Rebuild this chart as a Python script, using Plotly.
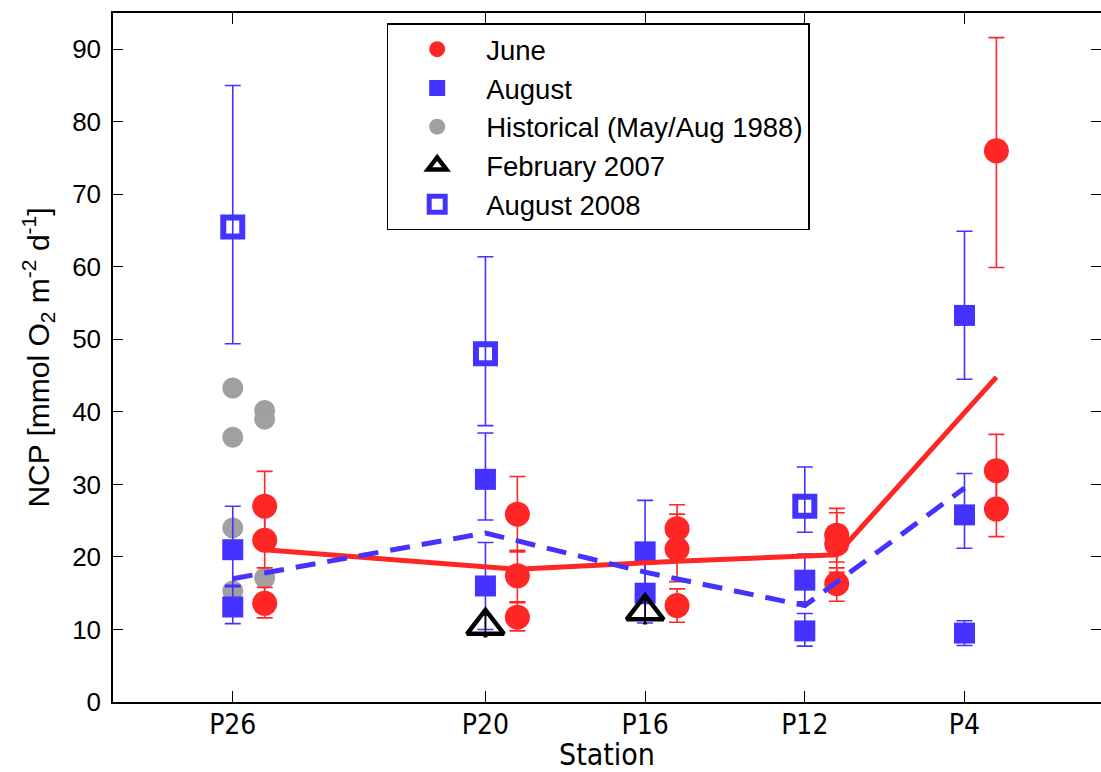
import plotly.graph_objects as go

# ---- data ----
stations = ["P26", "P20", "P16", "P12", "P4"]
station_lon = [-145.0, -138.67, -134.67, -130.67, -126.67]
june_offset = 0.8

june_station = ["P26", "P26", "P26", "P20", "P20", "P20", "P16", "P16", "P16",
                "P12", "P12", "P12", "P4", "P4", "P4"]
june_ncp = [27.0, 22.3, 13.6, 25.9, 17.4, 11.7, 23.9, 21.1, 13.3,
            23.0, 21.8, 16.3, 76.0, 31.9, 26.6]
june_err_up = [4.8, 3.8, 2.2, 5.2, 3.5, 2.0, 3.3, 4.8, 2.3,
               3.7, 4.3, 2.2, 15.6, 5.0, 4.3]
june_err_dn = [4.8, 3.8, 2.0, 5.2, 3.6, 1.9, 3.3, 4.5, 2.3,
               3.7, 3.9, 2.4, 16.1, 5.0, 3.8]

aug_station = ["P26", "P26", "P20", "P20", "P16", "P16", "P12", "P12", "P4", "P4", "P4"]
aug_ncp = [21.0, 13.1, 30.7, 16.0, 20.7, 15.0, 16.8, 9.8, 53.3, 25.8, 9.5]
aug_err_up = [6.0, 3.0, 6.4, 6.0, 7.1, 4.1, 3.6, 2.4, 11.6, 5.7, 1.7]
aug_err_dn = [5.1, 2.3, 5.6, 6.0, 7.1, 4.1, 3.0, 2.1, 8.8, 4.6, 1.7]

hist_may_station = ["P26", "P26", "P26"]
hist_may_ncp = [40.2, 39.0, 17.1]
hist_aug_station = ["P26", "P26", "P26", "P26"]
hist_aug_ncp = [43.3, 36.5, 24.0, 15.3]

feb07_station = ["P20", "P16"]
feb07_ncp = [10.5, 12.5]
feb07_err = [1.5, 1.7]

aug08_station = ["P26", "P20", "P12"]
aug08_ncp = [65.5, 48.0, 27.0]
aug08_err_up = [19.5, 13.4, 5.4]
aug08_err_dn = [16.1, 9.9, 3.6]

june_mean = [21.0, 18.3, 19.4, 20.3, 44.8]
aug_mean = [17.0, 23.3, 17.9, 13.3, 29.5]

# ---- styles ----
RED = "#FF2626"
BLUE = "#4433FF"
GRAY = "#A0A0A0"
NARROW = "Liberation Sans Narrow, DejaVu Sans Condensed, sans-serif"
lon = dict(zip(stations, station_lon))

fig = go.Figure()

fig.add_trace(go.Scatter(
    x=[lon[s] + june_offset for s in hist_may_station] + [lon[s] for s in hist_aug_station],
    y=hist_may_ncp + hist_aug_ncp, mode="markers", name="Historical (May/Aug 1988)",
    marker=dict(symbol="circle", size=21, color=GRAY), legendrank=3))

fig.add_trace(go.Scatter(
    x=[lon[s] + june_offset for s in june_station], y=june_ncp, mode="markers", name="June",
    marker=dict(symbol="circle", size=25, color=RED),
    error_y=dict(type="data", symmetric=False, array=june_err_up, arrayminus=june_err_dn,
                 color=RED, thickness=1.6, width=8), legendrank=1))

fig.add_trace(go.Scatter(
    x=[lon[s] for s in aug_station], y=aug_ncp, mode="markers", name="August",
    marker=dict(symbol="square", size=21, color=BLUE),
    error_y=dict(type="data", symmetric=False, array=aug_err_up, arrayminus=aug_err_dn,
                 color=BLUE, thickness=1.6, width=8), legendrank=2))

fig.add_trace(go.Scatter(
    x=[lon[s] for s in feb07_station], y=feb07_ncp, mode="markers", name="February 2007",
    marker=dict(symbol="triangle-up-open", size=32, color="black", line=dict(width=4.5, color="black")),
    error_y=dict(type="data", array=feb07_err, color="black", thickness=1.6, width=2), legendrank=4))

fig.add_trace(go.Scatter(
    x=[lon[s] for s in aug08_station], y=aug08_ncp, mode="markers", name="August 2008",
    marker=dict(symbol="square-open", size=19, color=BLUE, line=dict(width=6, color=BLUE)),
    error_y=dict(type="data", symmetric=False, array=aug08_err_up, arrayminus=aug08_err_dn,
                 color=BLUE, thickness=1.6, width=8), legendrank=5))

fig.add_trace(go.Scatter(
    x=[v + june_offset for v in station_lon], y=june_mean, mode="lines", showlegend=False,
    line=dict(color=RED, width=5)))
fig.add_trace(go.Scatter(
    x=station_lon, y=aug_mean, mode="lines", showlegend=False,
    line=dict(color=BLUE, width=5, dash="20px,12px")))

fig.update_layout(
    width=1101, height=772,
    margin=dict(l=113, r=0, t=13, b=70),
    plot_bgcolor="white", paper_bgcolor="white",
    font=dict(family="Liberation Sans, Arial, sans-serif", color="black"),
    legend=dict(x=0.277, y=0.985, xanchor="left", yanchor="top",
                bgcolor="white", bordercolor="black", borderwidth=1.5,
                font=dict(size=27.5, family="Liberation Sans, Arial, sans-serif"),
                itemwidth=88, tracegroupgap=0),
    xaxis=dict(range=[-148.0, -123.25], tickvals=station_lon, ticktext=stations,
               ticks="inside", ticklen=11, tickwidth=1.3, tickcolor="black",
               showline=True, linecolor="black", linewidth=1.5, mirror="ticks",
               showgrid=False, zeroline=False, automargin=False, ticklabelstandoff=-3,
               tickfont=dict(size=28, family=NARROW),
               title=dict(text="Station", standoff=8, font=dict(size=30, family=NARROW))),
    yaxis=dict(range=[0, 95], tickvals=[0, 10, 20, 30, 40, 50, 60, 70, 80, 90],
               ticks="inside", ticklen=10, tickwidth=1.3, tickcolor="black",
               showline=True, linecolor="black", linewidth=1.5, mirror="ticks",
               showgrid=False, zeroline=False, ticklabelstandoff=5, automargin=False,
               tickfont=dict(size=26),
               title=dict(text="NCP [mmol O<sub>2</sub> m<sup>-2</sup> d<sup>-1</sup>]",
                          standoff=14, font=dict(size=30))),
)

fig.write_html("out.html")
